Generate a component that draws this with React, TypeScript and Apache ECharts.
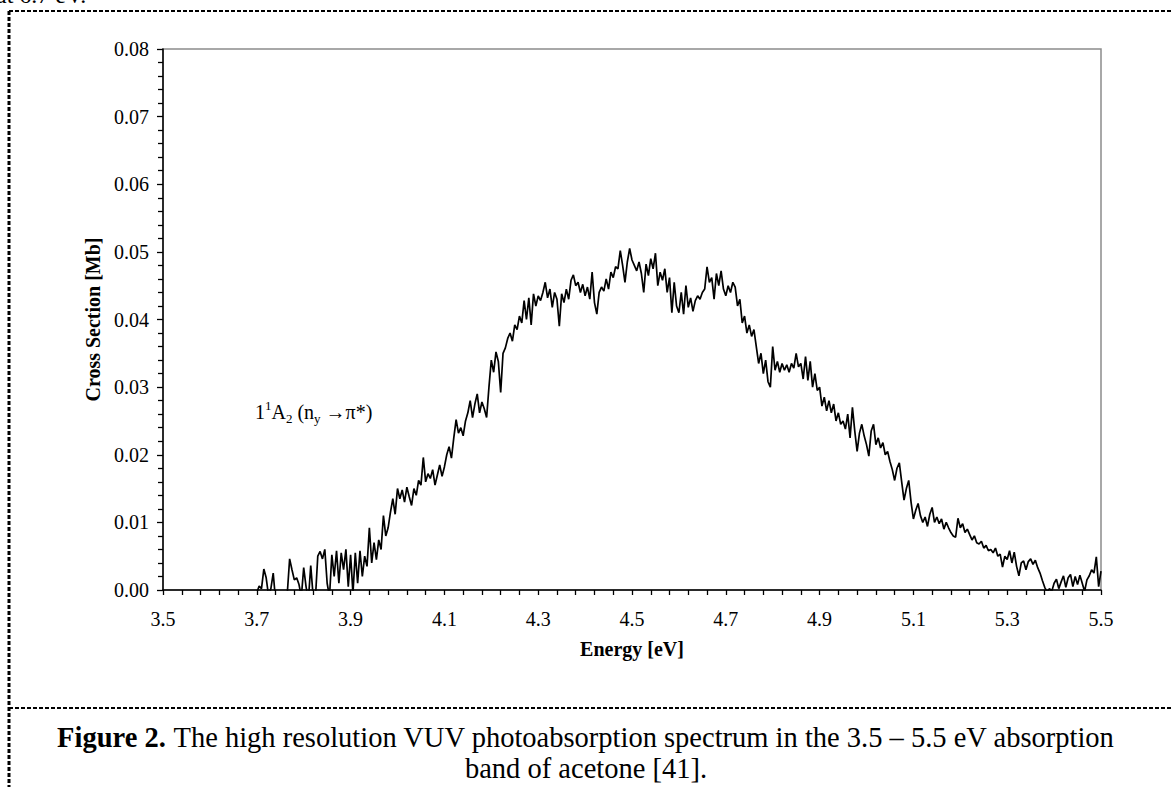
import React, { useEffect, useRef } from "react";
import * as echarts from "echarts";

// Energy [eV], cross section [Mb]
const onsetRegion: [number, number][] = [
  [3.700, -0.0004], [3.705, 0.0006], [3.710, 0.0002], [3.715, 0.0031], [3.720, 0.0018], [3.725, -0.0008], [3.730, 0.0002], [3.735, 0.0025], [3.740, -0.0015], [3.745, -0.0030],
  [3.750, -0.0020], [3.755, -0.0035], [3.760, -0.0010], [3.765, -0.0005], [3.770, 0.0046], [3.775, 0.0030], [3.780, 0.0015], [3.785, 0.0018], [3.790, 0.0008], [3.795, -0.0010],
  [3.800, 0.0033], [3.805, 0.0005], [3.810, -0.0015], [3.815, 0.0036], [3.820, -0.0008], [3.825, -0.0012], [3.830, 0.0050], [3.835, 0.0057], [3.840, 0.0046], [3.845, 0.0060],
  [3.850, 0.0010], [3.855, -0.0010], [3.860, 0.0052], [3.865, 0.0020], [3.870, 0.0058], [3.875, 0.0010], [3.880, 0.0055], [3.885, 0.0030], [3.890, 0.0060], [3.895, 0.0005],
  [3.900, 0.0052], [3.905, -0.0005], [3.910, 0.0055], [3.915, 0.0010], [3.920, 0.0058], [3.925, 0.0020], [3.930, 0.0050], [3.935, 0.0035], [3.940, 0.0092], [3.945, 0.0040],
  [3.950, 0.0070], [3.955, 0.0045], [3.960, 0.0074], [3.965, 0.0060], [3.970, 0.0110], [3.975, 0.0080], [3.980, 0.0092], [3.985, 0.0115], [3.990, 0.0135], [3.995, 0.0112],
];

const risingEdge: [number, number][] = [
  [4.000, 0.0150], [4.005, 0.0135], [4.010, 0.0148], [4.015, 0.0130], [4.020, 0.0152], [4.025, 0.0138], [4.030, 0.0125], [4.035, 0.0150], [4.040, 0.0140], [4.045, 0.0162],
  [4.050, 0.0155], [4.055, 0.0196], [4.060, 0.0160], [4.065, 0.0172], [4.070, 0.0165], [4.075, 0.0178], [4.080, 0.0155], [4.085, 0.0170], [4.090, 0.0185], [4.095, 0.0168],
  [4.100, 0.0182], [4.105, 0.0200], [4.110, 0.0212], [4.115, 0.0195], [4.120, 0.0225], [4.125, 0.0252], [4.130, 0.0232], [4.135, 0.0240], [4.140, 0.0228], [4.145, 0.0250],
  [4.150, 0.0262], [4.155, 0.0280], [4.160, 0.0255], [4.165, 0.0275], [4.170, 0.0290], [4.175, 0.0262], [4.180, 0.0278], [4.185, 0.0268], [4.190, 0.0255], [4.195, 0.0300],
  [4.200, 0.0340], [4.205, 0.0322], [4.210, 0.0352], [4.215, 0.0338], [4.220, 0.0292], [4.225, 0.0350], [4.230, 0.0358], [4.235, 0.0372], [4.240, 0.0380], [4.245, 0.0368],
  [4.250, 0.0392], [4.255, 0.0385], [4.260, 0.0405], [4.265, 0.0395], [4.270, 0.0428], [4.275, 0.0400], [4.280, 0.0432], [4.285, 0.0392], [4.290, 0.0438], [4.295, 0.0420],
];

const peakRegion: [number, number][] = [
  [4.300, 0.0435], [4.305, 0.0428], [4.310, 0.0440], [4.315, 0.0455], [4.320, 0.0432], [4.325, 0.0445], [4.330, 0.0418], [4.335, 0.0440], [4.340, 0.0430], [4.345, 0.0390],
  [4.350, 0.0438], [4.355, 0.0425], [4.360, 0.0445], [4.365, 0.0430], [4.370, 0.0458], [4.375, 0.0466], [4.380, 0.0450], [4.385, 0.0455], [4.390, 0.0440], [4.395, 0.0452],
  [4.400, 0.0435], [4.405, 0.0448], [4.410, 0.0430], [4.415, 0.0470], [4.420, 0.0425], [4.425, 0.0408], [4.430, 0.0440], [4.435, 0.0448], [4.440, 0.0442], [4.445, 0.0460],
  [4.450, 0.0445], [4.455, 0.0470], [4.460, 0.0462], [4.465, 0.0478], [4.470, 0.0475], [4.475, 0.0502], [4.480, 0.0480], [4.485, 0.0455], [4.490, 0.0485], [4.495, 0.0505],
  [4.500, 0.0488], [4.505, 0.0480], [4.510, 0.0472], [4.515, 0.0485], [4.520, 0.0468], [4.525, 0.0440], [4.530, 0.0482], [4.535, 0.0465], [4.540, 0.0490], [4.545, 0.0475],
  [4.550, 0.0498], [4.555, 0.0450], [4.560, 0.0470], [4.565, 0.0458], [4.570, 0.0475], [4.575, 0.0440], [4.580, 0.0462], [4.585, 0.0410], [4.590, 0.0455], [4.595, 0.0420],
  [4.600, 0.0410], [4.605, 0.0440], [4.610, 0.0408], [4.615, 0.0450], [4.620, 0.0418], [4.625, 0.0432], [4.630, 0.0412], [4.635, 0.0428], [4.640, 0.0435], [4.645, 0.0430],
  [4.650, 0.0440], [4.655, 0.0445], [4.660, 0.0478], [4.665, 0.0455], [4.670, 0.0462], [4.675, 0.0430], [4.680, 0.0468], [4.685, 0.0450], [4.690, 0.0472], [4.695, 0.0445],
  [4.700, 0.0435], [4.705, 0.0450], [4.710, 0.0440], [4.715, 0.0455], [4.720, 0.0448], [4.725, 0.0420], [4.730, 0.0430], [4.735, 0.0395], [4.740, 0.0405], [4.745, 0.0380],
];

const fallingEdge: [number, number][] = [
  [4.750, 0.0392], [4.755, 0.0375], [4.760, 0.0385], [4.765, 0.0360], [4.770, 0.0335], [4.775, 0.0350], [4.780, 0.0320], [4.785, 0.0340], [4.790, 0.0308], [4.795, 0.0300],
  [4.800, 0.0360], [4.805, 0.0325], [4.810, 0.0338], [4.815, 0.0322], [4.820, 0.0335], [4.825, 0.0325], [4.830, 0.0333], [4.835, 0.0322], [4.840, 0.0335], [4.845, 0.0328],
  [4.850, 0.0350], [4.855, 0.0330], [4.860, 0.0335], [4.865, 0.0312], [4.870, 0.0345], [4.875, 0.0310], [4.880, 0.0338], [4.885, 0.0300], [4.890, 0.0320], [4.895, 0.0295],
  [4.900, 0.0300], [4.905, 0.0272], [4.910, 0.0285], [4.915, 0.0265], [4.920, 0.0280], [4.925, 0.0262], [4.930, 0.0275], [4.935, 0.0250], [4.940, 0.0262], [4.945, 0.0245],
  [4.950, 0.0250], [4.955, 0.0238], [4.960, 0.0260], [4.965, 0.0225], [4.970, 0.0270], [4.975, 0.0235], [4.980, 0.0205], [4.985, 0.0232], [4.990, 0.0245], [4.995, 0.0228],
  [5.000, 0.0215], [5.005, 0.0198], [5.010, 0.0235], [5.015, 0.0245], [5.020, 0.0215], [5.025, 0.0225], [5.030, 0.0210], [5.035, 0.0218], [5.040, 0.0200], [5.045, 0.0205],
  [5.050, 0.0190], [5.055, 0.0178], [5.060, 0.0162], [5.065, 0.0180], [5.070, 0.0188], [5.075, 0.0160], [5.080, 0.0133], [5.085, 0.0150], [5.090, 0.0162], [5.095, 0.0130],
  [5.100, 0.0105], [5.105, 0.0118], [5.110, 0.0128], [5.115, 0.0110], [5.120, 0.0100], [5.125, 0.0108], [5.130, 0.0094], [5.135, 0.0112], [5.140, 0.0122], [5.145, 0.0100],
  [5.150, 0.0108], [5.155, 0.0098], [5.160, 0.0105], [5.165, 0.0090], [5.170, 0.0100], [5.175, 0.0092], [5.180, 0.0085], [5.185, 0.0080], [5.190, 0.0078], [5.195, 0.0106],
];

const tailRegion: [number, number][] = [
  [5.200, 0.0092], [5.205, 0.0098], [5.210, 0.0085], [5.215, 0.0090], [5.220, 0.0082], [5.225, 0.0074], [5.230, 0.0080], [5.235, 0.0070], [5.240, 0.0068], [5.245, 0.0072],
  [5.250, 0.0062], [5.255, 0.0066], [5.260, 0.0058], [5.265, 0.0060], [5.270, 0.0055], [5.275, 0.0062], [5.280, 0.0050], [5.285, 0.0053], [5.290, 0.0034], [5.295, 0.0050],
  [5.300, 0.0045], [5.305, 0.0058], [5.310, 0.0040], [5.315, 0.0056], [5.320, 0.0035], [5.325, 0.0021], [5.330, 0.0040], [5.335, 0.0043], [5.340, 0.0030], [5.345, 0.0042],
  [5.350, 0.0046], [5.355, 0.0038], [5.360, 0.0044], [5.365, 0.0033], [5.370, 0.0025], [5.375, 0.0014], [5.380, 0.0004], [5.385, -0.0003], [5.390, 0.0002], [5.395, -0.0002],
  [5.400, 0.0010], [5.405, 0.0016], [5.410, 0.0002], [5.415, 0.0012], [5.420, 0.0021], [5.425, 0.0004], [5.430, 0.0018], [5.435, 0.0023], [5.440, 0.0005], [5.445, 0.0020],
  [5.450, 0.0008], [5.455, 0.0022], [5.460, 0.0010], [5.465, -0.0002], [5.470, 0.0015], [5.475, 0.0021], [5.480, 0.0030], [5.485, 0.0025], [5.490, 0.0049], [5.495, 0.0005],
  [5.500, 0.0028],
];

const xAxisTitle = "Energy [eV]";
const yAxisTitle = "Cross Section [Mb]";
const captionBold = "Figure 2.";
const captionLine1 = " The high resolution VUV photoabsorption spectrum in the 3.5 – 5.5 eV absorption";
const captionLine2 = "band of acetone [41].";
const topFragment = "at 6.7 eV.";

const SERIF = "'Liberation Serif', 'DejaVu Serif', 'Times New Roman', serif";

export default function App() {
  const ref = useRef<HTMLDivElement>(null);

  useEffect(() => {
    if (!ref.current) return;
    const chart = echarts.init(ref.current, undefined, { renderer: "svg" });
    const spectrum = [...onsetRegion, ...risingEdge, ...peakRegion, ...fallingEdge, ...tailRegion];

    const dashed = { stroke: "#000", lineWidth: 2, lineDash: [4, 2] };

    chart.setOption({
      animation: false,
      backgroundColor: "#fff",
      grid: {
        left: 163,
        top: 49,
        width: 938,
        height: 541,
        show: true,
        borderColor: "#8c8c8c",
        borderWidth: 1.5,
        backgroundColor: "transparent",
        containLabel: false,
      },
      xAxis: {
        type: "value",
        min: 3.5,
        max: 5.5,
        interval: 0.2,
        name: xAxisTitle,
        nameLocation: "middle",
        nameGap: 49,
        nameTextStyle: { fontFamily: SERIF, fontWeight: "bold", fontSize: 20, color: "#000" },
        axisLine: { show: true, onZero: false, lineStyle: { color: "#000", width: 1.5 } },
        axisTick: { show: true, inside: false, length: 5, lineStyle: { color: "#000", width: 1.3 } },
        minorTick: { show: true, splitNumber: 5, length: 5, lineStyle: { color: "#000", width: 1.3 } },
        splitLine: { show: false },
        axisLabel: {
          formatter: (v: number) => v.toFixed(1),
          fontFamily: SERIF,
          fontSize: 20,
          color: "#000",
          margin: 19,
          showMinLabel: true,
          showMaxLabel: true,
        },
      },
      yAxis: {
        type: "value",
        min: 0,
        max: 0.08,
        interval: 0.01,
        name: yAxisTitle,
        nameLocation: "middle",
        nameGap: 55,
        nameTextStyle: { fontFamily: SERIF, fontWeight: "bold", fontSize: 20, color: "#000" },
        axisLine: { show: true, lineStyle: { color: "#000", width: 1.5 } },
        axisTick: { show: true, inside: false, length: 6, lineStyle: { color: "#000", width: 1.3 } },
        minorTick: { show: true, splitNumber: 5, length: 5, lineStyle: { color: "#000", width: 1.3 } },
        splitLine: { show: false },
        axisLabel: {
          formatter: (v: number) => v.toFixed(2),
          fontFamily: SERIF,
          fontSize: 20,
          color: "#000",
          margin: 14,
        },
      },
      series: [
        {
          type: "line",
          data: spectrum,
          showSymbol: false,
          symbol: "none",
          clip: true,
          lineStyle: { color: "#000", width: 1.7 },
          silent: true,
        },
      ],
      graphic: [
        { type: "line", shape: { x1: 9, y1: 11, x2: 1173, y2: 11 }, style: dashed },
        { type: "line", shape: { x1: 9, y1: 11, x2: 9, y2: 787 }, style: { ...dashed, lineWidth: 3 } },
        { type: "line", shape: { x1: 9, y1: 708, x2: 1173, y2: 708 }, style: dashed },
        {
          type: "text",
          x: -4,
          y: 7,
          style: {
            text: topFragment,
            fontFamily: SERIF,
            fontSize: 24,
            fill: "#000",
            verticalAlign: "bottom",
          },
        },
        {
          type: "text",
          x: 255,
          y: 412,
          style: {
            text: "{n|1}{sup|1}{n|A}{sub|2}{n| (n}{sub|y}{n| →π*)}",
            fontFamily: SERIF,
            fontSize: 20,
            fill: "#000",
            verticalAlign: "middle",
            rich: {
              n: { fontFamily: SERIF, fontSize: 20, lineHeight: 26, fill: "#000" },
              sup: { fontFamily: SERIF, fontSize: 13, lineHeight: 13, verticalAlign: "top", fill: "#000" },
              sub: { fontFamily: SERIF, fontSize: 13, lineHeight: 13, verticalAlign: "bottom", fill: "#000" },
            },
          },
        },
        {
          type: "text",
          x: 586,
          y: 737,
          style: {
            text: "{b|" + captionBold + "}{n|" + captionLine1 + "}",
            align: "center",
            verticalAlign: "middle",
            fontFamily: SERIF,
            fontSize: 28.5,
            fill: "#000",
            rich: {
              b: { fontFamily: SERIF, fontSize: 28.5, fontWeight: "bold", fill: "#000" },
              n: { fontFamily: SERIF, fontSize: 28.5, fill: "#000" },
            },
          },
        },
        {
          type: "text",
          x: 586,
          y: 768,
          style: {
            text: captionLine2,
            align: "center",
            verticalAlign: "middle",
            fontFamily: SERIF,
            fontSize: 28.5,
            fill: "#000",
          },
        },
      ],
    });

    return () => chart.dispose();
  }, []);

  return (
    <div
      ref={ref}
      style={{ position: "absolute", left: 0, top: 0, width: 1173, height: 787, background: "#fff" }}
    />
  );
}
